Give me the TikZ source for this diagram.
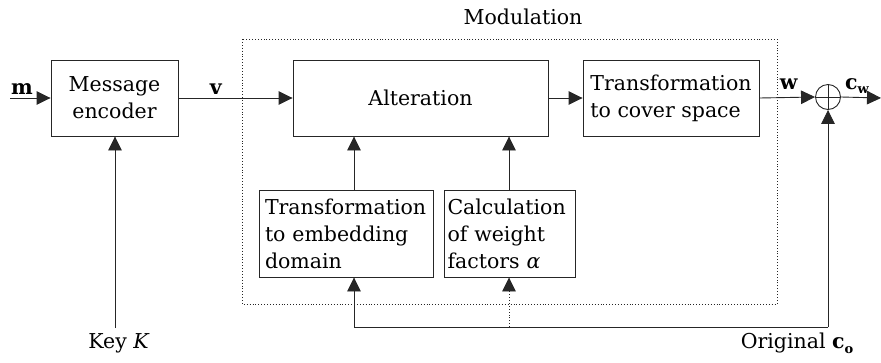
\documentclass[tikz,border=0pt]{standalone}
\usepackage{fontspec}
\setmainfont{DejaVu Serif}
\usetikzlibrary{arrows.meta}
\begin{document}
\begin{tikzpicture}[x=1pt,y=-1pt,
  font=\fontsize{20.5}{27}\selectfont,
  ln/.style={draw=black!85, line width=0.9pt},
  arr/.style={ln, -{Triangle[length=14pt,width=13.5pt]}},
  box/.style={ln, rectangle, inner sep=0pt},
  lbl/.style={inner sep=0pt}]
\useasboundingbox (0,0) rectangle (881,362);
% dotted modulation frame
\draw[ln, dotted] (242,39) rectangle (777,304);
\node[lbl] (modl) at (523,17) {Modulation};
% boxes
\node[box, minimum width=127pt, minimum height=76pt, align=center] (enc) at (114.5,98) {Message\\encoder};
\node[box, minimum width=255pt, minimum height=76pt] (alt) at (420.5,98) {Alteration};
\node[box, minimum width=176pt, minimum height=76pt, align=left] (tcs) at (671,98) {Transformation\\to cover space};
\node[box, minimum width=174pt, minimum height=87pt, align=left, text width=162pt] (ted) at (346,233.5) {Transformation\\to embedding\\domain};
\node[box, minimum width=131pt, minimum height=87pt, align=left, text width=124pt] (cwf) at (509.5,233.5) {Calculation\\of weight\\factors \textit{α}};
\node[ln, circle, minimum size=25pt, inner sep=0pt] (sum) at (828,97) {};
\draw[ln] (sum.north) -- (sum.south) (sum.west) -- (sum.east);
% labels
\node[lbl] (ml) at (22,89) {\textbf{m}};
\node[lbl] (vl) at (216,89) {\textbf{v}};
\node[lbl] (wl) at (789,84) {\textbf{w}};
\node[lbl] (cwl) at (857,86) {\textbf{c}\raisebox{-0.45ex}{\fontsize{13}{14}\selectfont\textbf{w}}};
\node[lbl] (key) at (119,343) {Key \textit{K}};
\node[lbl] (orig) at (797,343) {Original \textbf{c}\raisebox{-0.45ex}{\fontsize{13}{14}\selectfont\textbf{o}}};
% coordinates
\coordinate (min) at (10,98);
\coordinate (out) at (881,98);
\coordinate (keytop) at (115,328);
\coordinate (bl) at (828,327);
\coordinate (tedx) at (354,0);
\coordinate (cwfx) at (509,0);
% connectors
\draw[arr] (min) -- (enc.west);
\draw[arr] (enc.east) -- (alt.west);
\draw[arr] (alt.east) -- (tcs.west);
\draw[arr] (tcs.east) -- (sum.west);
\draw[arr] (sum.east) -- (out);
\draw[arr] (keytop) -- (keytop |- enc.south);
\draw[arr] (bl) -- (sum.south);
\draw[arr] (bl) -| (tedx |- ted.south);
\draw[arr, dotted] (cwfx |- bl) -- (cwfx |- cwf.south);
\draw[arr] (tedx |- ted.north) -- (tedx |- alt.south);
\draw[arr] (cwfx |- cwf.north) -- (cwfx |- alt.south);
\end{tikzpicture}
\end{document}
